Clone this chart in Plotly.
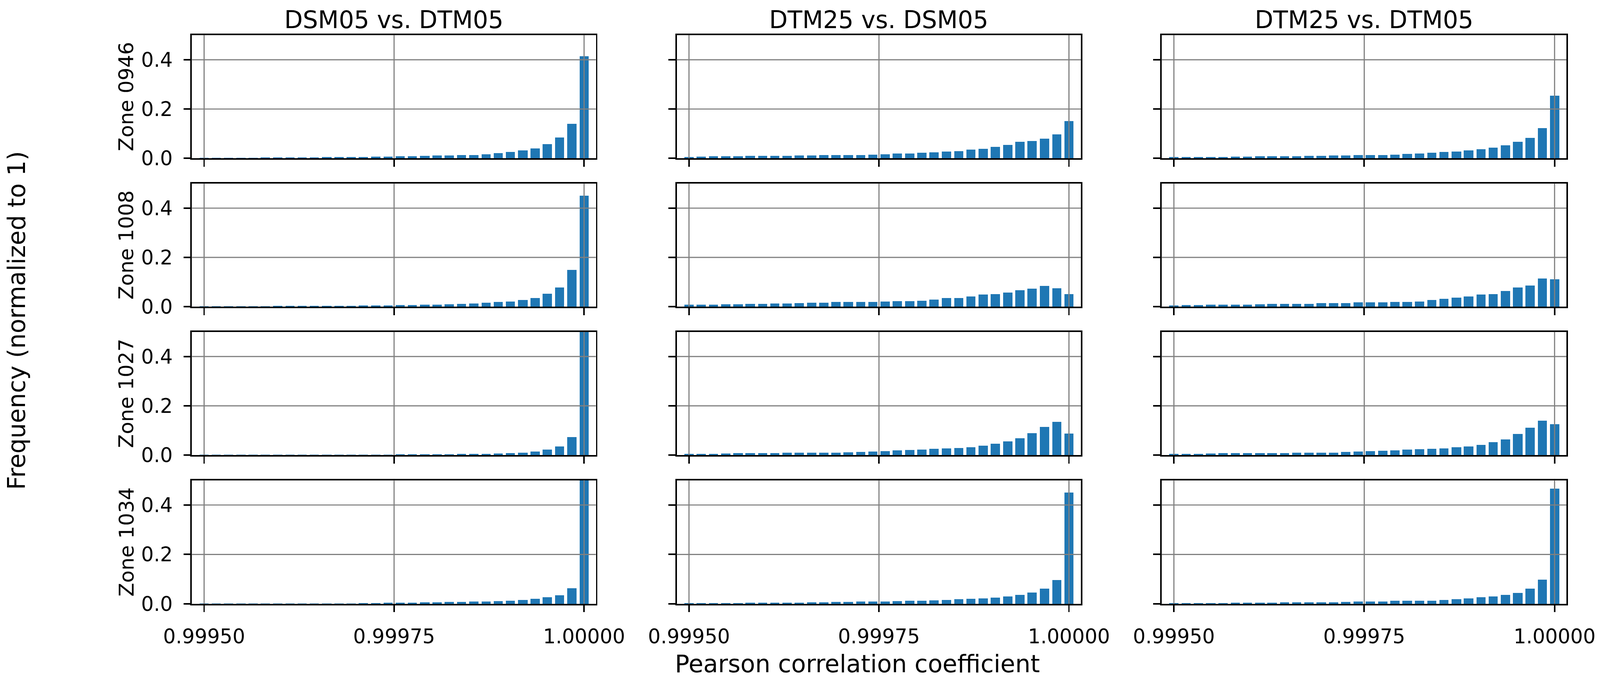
import numpy as np
import plotly.graph_objects as go
from plotly.subplots import make_subplots

# ---------------- data ----------------
comparisons = ["DSM05 vs. DTM05", "DTM25 vs. DSM05", "DTM25 vs. DTM05"]
zones = ["Zone 0946", "Zone 1008", "Zone 1027", "Zone 1034"]

x_ticks = [0.9995, 0.99975, 1.0]
x_tick_labels = ["0.99950", "0.99975", "1.00000"]
y_ticks = [0.0, 0.2, 0.4]
y_tick_labels = ["0.0", "0.2", "0.4"]

bin_first = 0.9995
bin_last = 1.0
n_bins = 32

# Zone 0946
z0946_dsm05_dtm05 = [0.0005, 0.0007, 0.001, 0.0012, 0.0015, 0.0018, 0.002, 0.0025, 0.003, 0.0035, 0.004,
                     0.0045, 0.005, 0.005, 0.0055, 0.006, 0.007, 0.008, 0.010, 0.011, 0.011, 0.013, 0.014,
                     0.017, 0.021, 0.026, 0.033, 0.041, 0.057, 0.085, 0.140, 0.415]
z0946_dtm25_dsm05 = [0.005, 0.006, 0.007, 0.008, 0.008, 0.009, 0.009, 0.010, 0.010, 0.011, 0.011, 0.012,
                     0.013, 0.013, 0.014, 0.016, 0.017, 0.020, 0.020, 0.023, 0.025, 0.028, 0.029, 0.035,
                     0.039, 0.047, 0.054, 0.066, 0.070, 0.081, 0.097, 0.151]
z0946_dtm25_dtm05 = [0.004, 0.004, 0.005, 0.005, 0.005, 0.006, 0.006, 0.007, 0.008, 0.008, 0.008, 0.010,
                     0.010, 0.011, 0.011, 0.012, 0.013, 0.014, 0.015, 0.018, 0.020, 0.023, 0.026, 0.028,
                     0.033, 0.037, 0.044, 0.052, 0.067, 0.083, 0.123, 0.254]
# Zone 1008
z1008_dsm05_dtm05 = [0.0003, 0.0005, 0.0007, 0.001, 0.0012, 0.0015, 0.0018, 0.002, 0.002, 0.0025, 0.003,
                     0.003, 0.0035, 0.004, 0.005, 0.005, 0.006, 0.006, 0.008, 0.008, 0.009, 0.011, 0.012,
                     0.015, 0.018, 0.022, 0.028, 0.036, 0.052, 0.078, 0.148, 0.450]
z1008_dtm25_dsm05 = [0.008, 0.008, 0.008, 0.009, 0.010, 0.011, 0.011, 0.012, 0.012, 0.014, 0.015, 0.016,
                     0.018, 0.018, 0.018, 0.020, 0.021, 0.023, 0.023, 0.025, 0.029, 0.035, 0.036, 0.042,
                     0.049, 0.051, 0.058, 0.067, 0.073, 0.083, 0.075, 0.051]
z1008_dtm25_dtm05 = [0.005, 0.006, 0.006, 0.007, 0.008, 0.008, 0.008, 0.009, 0.011, 0.011, 0.011, 0.011,
                     0.014, 0.014, 0.014, 0.017, 0.017, 0.017, 0.018, 0.020, 0.022, 0.028, 0.033, 0.037,
                     0.042, 0.049, 0.051, 0.064, 0.077, 0.086, 0.114, 0.111]
# Zone 1027
z1027_dsm05_dtm05 = [0.0002, 0.0002, 0.0002, 0.0003, 0.0003, 0.0003, 0.0004, 0.0004, 0.0005, 0.0005, 0.0006,
                     0.0007, 0.0008, 0.001, 0.0012, 0.0014, 0.0016, 0.0018, 0.002, 0.0025, 0.003, 0.004,
                     0.004, 0.005, 0.006, 0.008, 0.010, 0.014, 0.021, 0.035, 0.072, 0.620]
z1027_dtm25_dsm05 = [0.004, 0.005, 0.005, 0.006, 0.007, 0.007, 0.007, 0.007, 0.009, 0.009, 0.009, 0.010,
                     0.010, 0.011, 0.013, 0.014, 0.016, 0.019, 0.020, 0.022, 0.026, 0.028, 0.030, 0.032,
                     0.039, 0.046, 0.056, 0.068, 0.089, 0.115, 0.135, 0.086]
z1027_dtm25_dtm05 = [0.004, 0.005, 0.005, 0.006, 0.007, 0.007, 0.007, 0.008, 0.008, 0.008, 0.009, 0.010,
                     0.010, 0.010, 0.012, 0.014, 0.016, 0.017, 0.019, 0.021, 0.023, 0.025, 0.028, 0.032,
                     0.036, 0.042, 0.053, 0.064, 0.085, 0.112, 0.139, 0.125]
# Zone 1034
z1034_dsm05_dtm05 = [0.0003, 0.0003, 0.0004, 0.0004, 0.0005, 0.0005, 0.0006, 0.0007, 0.0008, 0.0009, 0.001,
                     0.0012, 0.0015, 0.002, 0.003, 0.004, 0.0045, 0.005, 0.0055, 0.006, 0.007, 0.0075,
                     0.009, 0.010, 0.011, 0.013, 0.016, 0.020, 0.026, 0.036, 0.063, 0.600]
z1034_dtm25_dsm05 = [0.002, 0.002, 0.002, 0.003, 0.003, 0.004, 0.004, 0.005, 0.005, 0.005, 0.006, 0.006,
                     0.007, 0.0075, 0.009, 0.009, 0.010, 0.011, 0.012, 0.013, 0.014, 0.015, 0.018, 0.020,
                     0.022, 0.025, 0.030, 0.037, 0.047, 0.062, 0.095, 0.451]
z1034_dtm25_dtm05 = [0.002, 0.002, 0.002, 0.003, 0.003, 0.004, 0.004, 0.005, 0.005, 0.006, 0.006, 0.006,
                     0.006, 0.006, 0.008, 0.009, 0.009, 0.009, 0.012, 0.012, 0.012, 0.013, 0.016, 0.019,
                     0.022, 0.026, 0.030, 0.037, 0.045, 0.061, 0.097, 0.466]

grid_values = [
    [z0946_dsm05_dtm05, z0946_dtm25_dsm05, z0946_dtm25_dtm05],
    [z1008_dsm05_dtm05, z1008_dtm25_dsm05, z1008_dtm25_dtm05],
    [z1027_dsm05_dtm05, z1027_dtm25_dsm05, z1027_dtm25_dtm05],
    [z1034_dsm05_dtm05, z1034_dtm25_dsm05, z1034_dtm25_dtm05],
]

# ---------------- layout ----------------
W, H = 4194, 1787
col_px = [(503, 1562), (1774, 2833), (3045, 4106)]
row_px = [(92, 415), (481, 804), (870, 1193), (1259, 1583)]


def px(v):
    return v / W


def py(v):
    return 1 - v / H


FONT = "DejaVu Sans"
BLUE = "#1f77b4"
GRID = "#808080"
LW = 4
XTICK_FS = 52
YTICK_FS = 52
ZONE_FS = 53
LABEL_FS = 63

centers = np.linspace(bin_first, bin_last, n_bins)
step = (bin_last - bin_first) / (n_bins - 1)
bar_w = step * 0.76
x_range = [bin_first - step * 0.996, bin_last + step * 0.965]

fig = make_subplots(rows=4, cols=3)

for r in range(4):
    for c in range(3):
        fig.add_trace(
            go.Bar(x=centers, y=grid_values[r][c], width=bar_w,
                   marker=dict(color=BLUE, line=dict(width=0)), showlegend=False),
            row=r + 1, col=c + 1)

shapes = []
annotations = []
for r in range(4):
    for c in range(3):
        idx = r * 3 + c + 1
        xa = "xaxis" if idx == 1 else f"xaxis{idx}"
        ya = "yaxis" if idx == 1 else f"yaxis{idx}"
        xref = "x" if idx == 1 else f"x{idx}"
        yref = "y" if idx == 1 else f"y{idx}"
        l, rr = col_px[c]
        t, b = row_px[r]
        fig.layout[xa].update(
            domain=[px(l), px(rr)], range=x_range, tickvals=x_ticks, ticktext=x_tick_labels,
            showticklabels=(r == 3), ticks="outside", ticklen=18, tickwidth=LW, tickcolor="black",
            showline=True, linecolor="black", linewidth=LW, mirror=True, showgrid=False,
            zeroline=False, ticklabelstandoff=19, automargin=False,
            tickfont=dict(family=FONT, size=XTICK_FS, color="black"))
        fig.layout[ya].update(
            domain=[py(b), py(t)], range=[0, 0.5], tickvals=y_ticks, ticktext=y_tick_labels,
            showticklabels=(c == 0), ticks="outside", ticklen=18, tickwidth=LW, tickcolor="black",
            showline=True, linecolor="black", linewidth=LW, mirror=True, showgrid=False,
            zeroline=False, ticklabelstandoff=18, automargin=False,
            tickfont=dict(family=FONT, size=YTICK_FS, color="black"))
        for xv in x_ticks:
            shapes.append(dict(type="line", xref=xref, yref=f"{yref} domain", x0=xv, x1=xv,
                               y0=0, y1=1, line=dict(color=GRID, width=3), layer="above"))
        for yv in y_ticks[1:]:
            shapes.append(dict(type="line", xref=f"{xref} domain", yref=yref, x0=0, x1=1,
                               y0=yv, y1=yv, line=dict(color=GRID, width=3), layer="above"))

for c, name in enumerate(comparisons):
    l, rr = col_px[c]
    annotations.append(dict(text=name, x=px((l + rr) / 2), y=py(53), xref="paper", yref="paper",
                            showarrow=False, xanchor="center", yanchor="middle",
                            font=dict(family=FONT, size=LABEL_FS, color="black")))
for r, z in enumerate(zones):
    t, b = row_px[r]
    annotations.append(dict(text=z, x=px(331), y=py((t + b) / 2), xref="paper", yref="paper",
                            showarrow=False, xanchor="center", yanchor="middle", textangle=-90,
                            font=dict(family=FONT, size=ZONE_FS, color="black")))
annotations.append(dict(text="Frequency (normalized to 1)", x=px(44), y=py(840), xref="paper",
                        yref="paper", showarrow=False, xanchor="center", yanchor="middle", textangle=-90,
                        font=dict(family=FONT, size=LABEL_FS, color="black")))
annotations.append(dict(text="Pearson correlation coefficient", x=px(2247), y=py(1740),
                        xref="paper", yref="paper", showarrow=False, xanchor="center", yanchor="middle",
                        font=dict(family=FONT, size=LABEL_FS, color="black")))

fig.update_layout(width=W, height=H, margin=dict(l=0, r=0, t=0, b=0),
                  paper_bgcolor="white", plot_bgcolor="white", bargap=0,
                  shapes=shapes, annotations=annotations,
                  font=dict(family=FONT, color="black"))

# no page margin; if the visible viewport is smaller than the figure, scale the page so the
# whole 4194x1787 figure fits exactly (no-op when the viewport already matches)
fit_script = (
    "document.body.style.margin='0';"
    "document.body.style.overflow='hidden';"
    "var z=Math.min(window.innerWidth/4194, window.innerHeight/1787);"
    "if(z>0 && Math.abs(z-1)>0.001){document.body.style.zoom=z;}"
)
fig.write_html("out.html", config={"displayModeBar": False}, post_script=fit_script)
